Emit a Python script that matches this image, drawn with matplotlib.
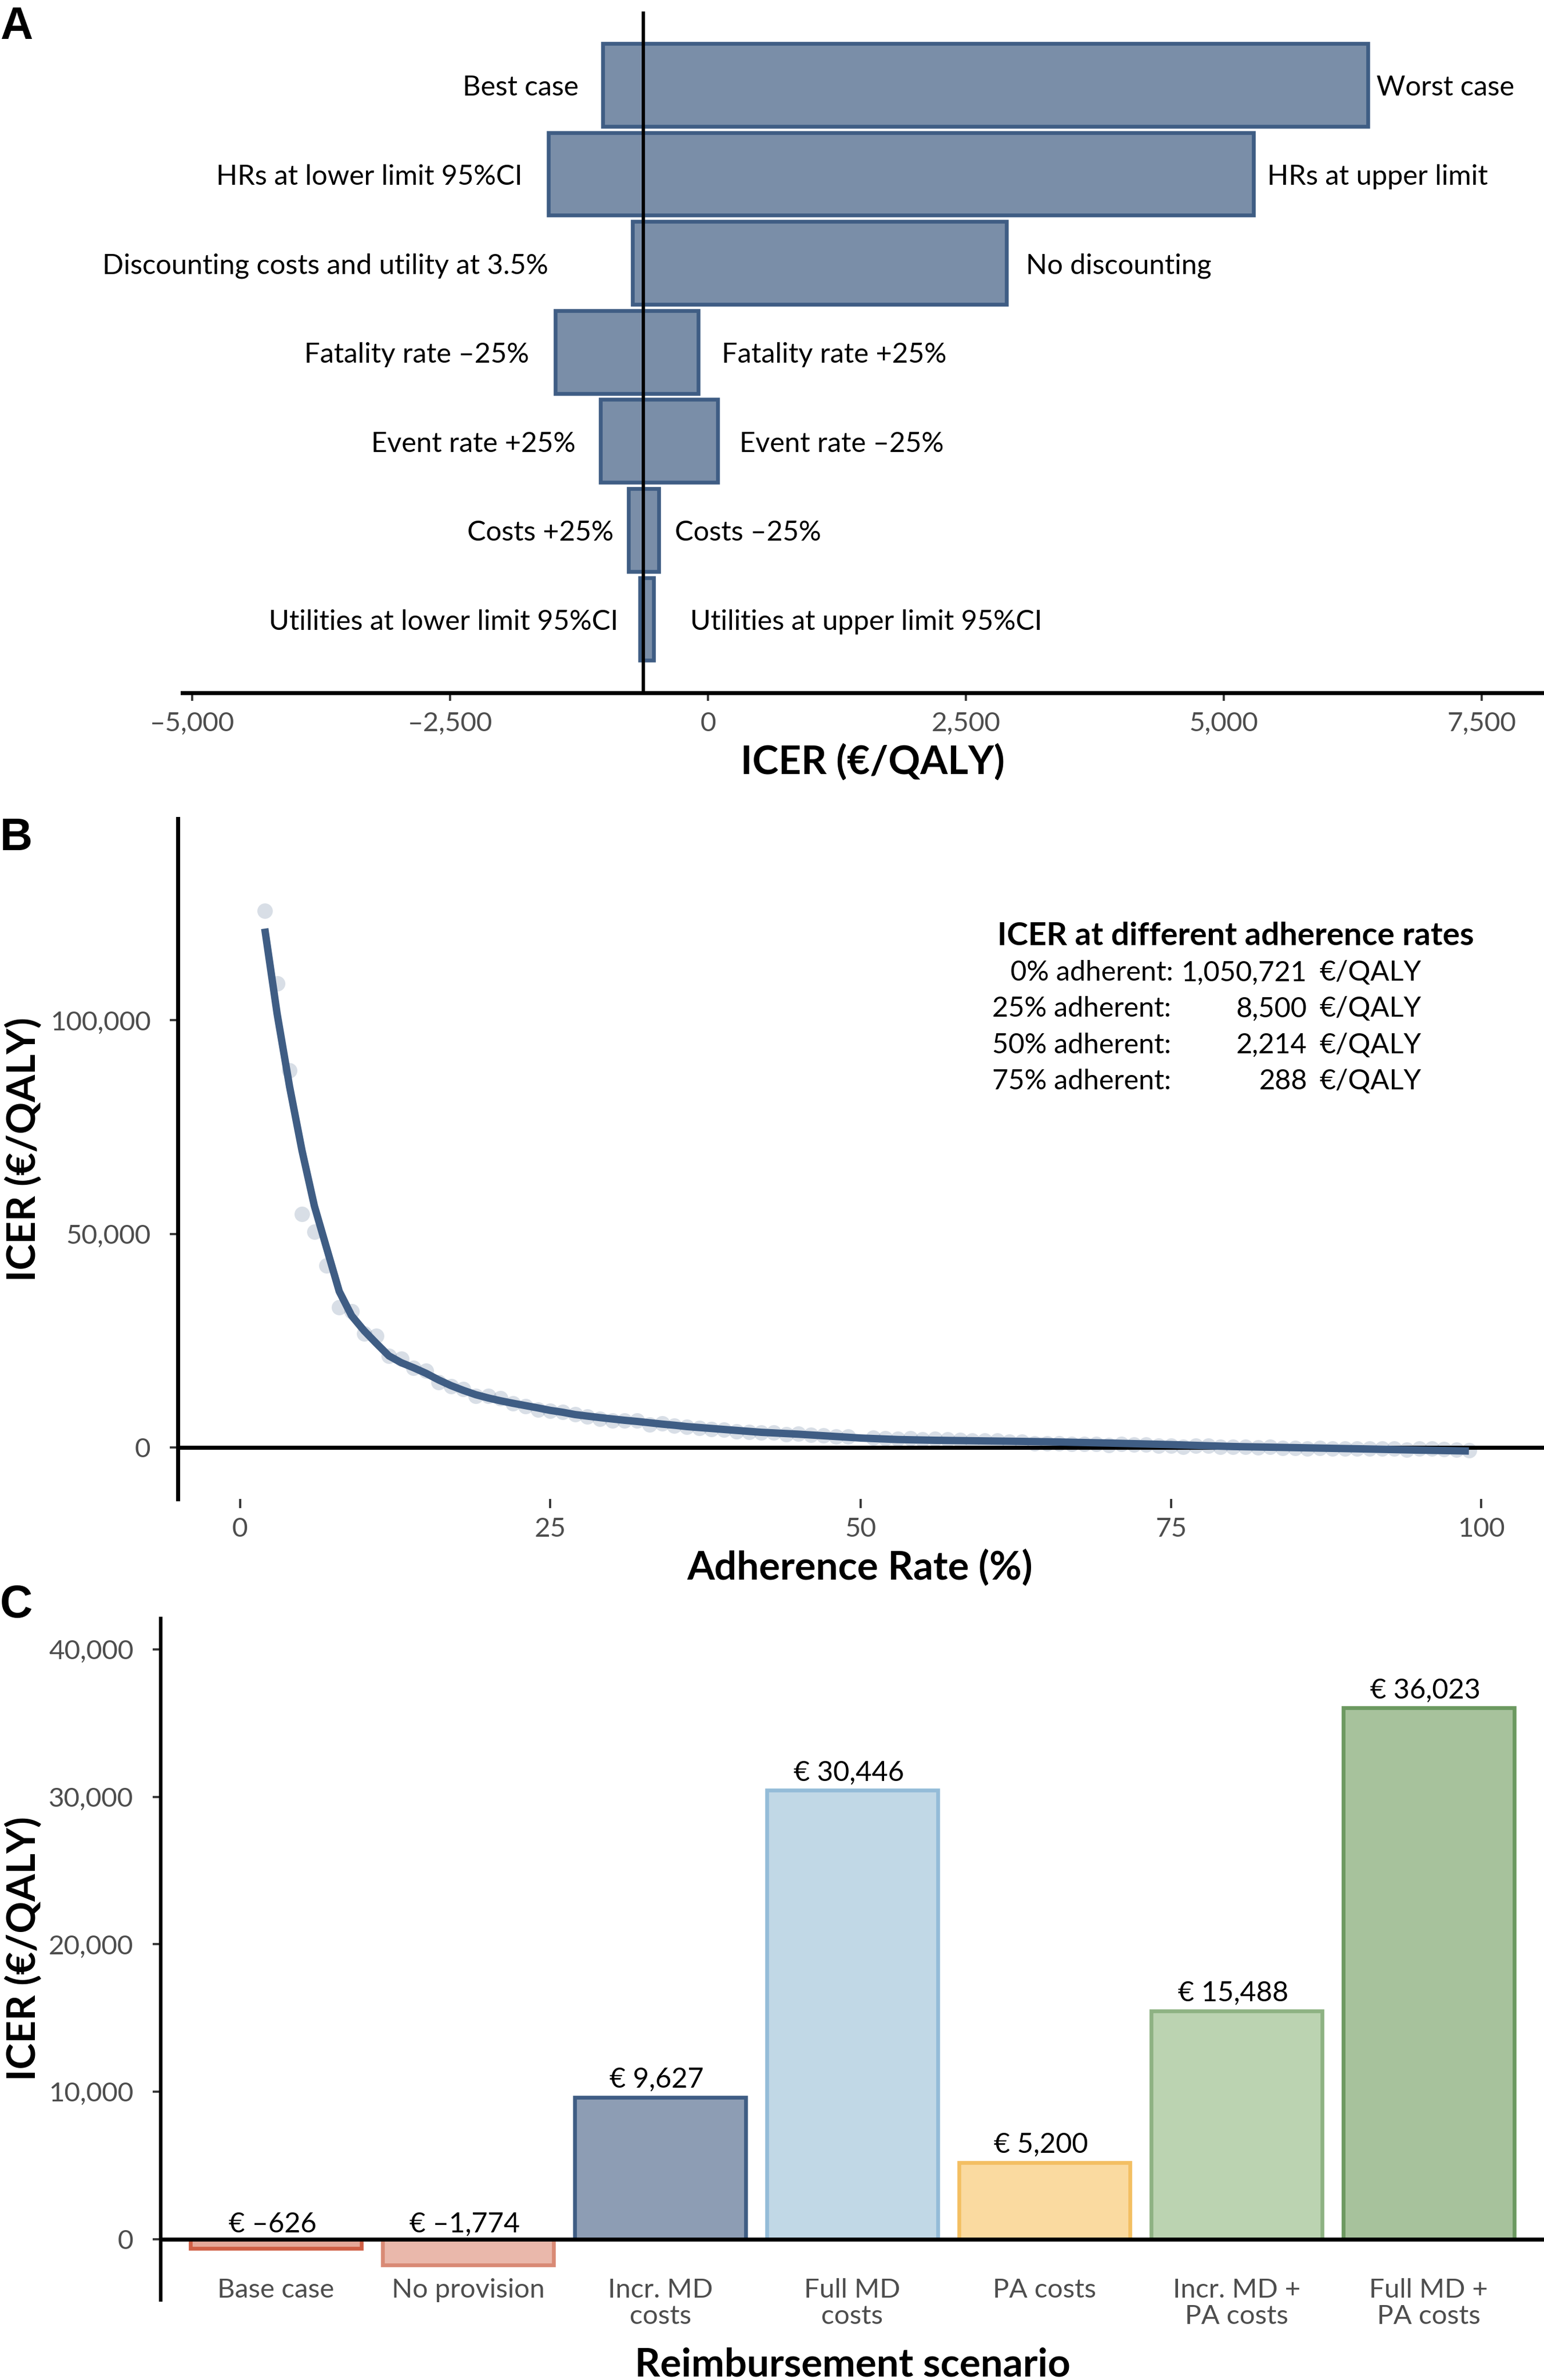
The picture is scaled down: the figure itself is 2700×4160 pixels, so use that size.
#!/usr/bin/env python3
"""ICER sensitivity panels: tornado, adherence curve, reimbursement scenarios."""

import matplotlib

matplotlib.use("Agg")
import matplotlib.pyplot as plt

WIDTH = 2700
HEIGHT = 4160
DPI = 300

NAVY = "#3F5D84"
TICK_TEXT = "#4D4D4D"
TICK_MARK = "#333333"

# panel A
tornado_low = [-1020, -1546, -733, -1480, -1042, -771, -660]
tornado_high = [6397, 5288, 2893, -94, 96, -477, -526]
tornado_left_labels = [
    "Best case",
    "HRs at lower limit 95%CI",
    "Discounting costs and utility at 3.5%",
    "Fatality rate –25%",
    "Event rate +25%",
    "Costs +25%",
    "Utilities at lower limit 95%CI",
]
tornado_right_labels = [
    "Worst case",
    "HRs at upper limit",
    "No discounting",
    "Fatality rate +25%",
    "Event rate –25%",
    "Costs –25%",
    "Utilities at upper limit 95%CI",
]
tornado_left_gap = [42, 45, 147, 46, 44, 26, 38]
tornado_right_gap = [15, 24, 34, 41, 38, 28, 64]
base_case_icer = -626
tornado_ticks = [-5000, -2500, 0, 2500, 5000, 7500]
tornado_ticklabels = ["–5,000", "–2,500", "0", "2,500", "5,000", "7,500"]

# panel B
dots_adherence = [
    2, 3, 4, 5, 6, 7, 8, 9, 10, 11, 12, 13, 14, 15, 16, 17, 18, 19, 20, 21,
    22, 23, 24, 25, 26, 27, 28, 29, 30, 31, 32, 33, 34, 35, 36, 37, 38, 39,
    40, 41, 42, 43, 44, 45, 46, 47, 48, 49, 51, 52, 53, 54, 55, 56, 57, 58,
    59, 60, 61, 62, 63, 64, 65, 66, 67, 68, 69, 70, 71, 72, 73, 74, 75, 76,
    77, 78, 79, 80, 81, 82, 83, 84, 85, 86, 87, 88, 89, 90, 91, 92, 93, 94,
    95, 96, 97, 98, 99,
]
dots_icer = [
    125700, 108690, 88220, 54670, 50510, 42590, 32735, 31810, 26650, 26050,
    21420, 20690, 18540, 17870, 15190, 14210, 13670, 12060, 12060, 11440,
    10190, 9610, 8760, 8490, 8180, 7770, 7190, 6700, 6170, 6260, 6170, 5360,
    5500, 5050, 4740, 4470, 4290, 4110, 3750, 3570, 3400, 3400, 3040, 3170,
    2950, 2810, 2500, 2460, 2230, 2060, 1920, 2060, 1790, 1970, 1790, 1650,
    1520, 1500, 1540, 1270, 1270, 920, 830, 830, 740, 690, 740, 470, 740,
    600, 560, 380, 290, 70, 290, 290, 70, 20, 20, -70, 20, -160, -160, -290,
    -160, -290, -340, -340, -380, -380, -380, -600, -380, -380, -510, -600,
    -740,
]
curve_adherence = [
    2, 3, 4, 5, 6, 7, 8, 9, 10, 11, 12, 13, 14, 15, 16, 17, 18, 19, 20, 21,
    22, 23, 24, 25, 26, 27, 28, 29, 30, 31, 32, 33, 34, 35, 36, 39, 42, 45,
    48, 50, 53, 56, 59, 65, 70, 75, 80, 85, 90, 95, 99,
]
curve_icer = [
    121500, 101500, 84500, 69500, 56500, 46500, 36500, 30800, 27300, 24300,
    21400, 19790, 18600, 17300, 15770, 14430, 13310, 12300, 11530, 10860,
    10280, 9740, 9200, 8620, 8180, 7640, 7280, 6930, 6610, 6300, 6030, 5720,
    5410, 5140, 4830, 4150, 3480, 3040, 2500, 2140, 1790, 1610, 1500, 1270,
    960, 600, 150, -110, -380, -690, -900,
]
adherence_rows = ["0% adherent:", "25% adherent:", "50% adherent:", "75% adherent:"]
adherence_values = ["1,050,721", "8,500", "2,214", "288"]

# panel C
scenarios = [
    "Base case",
    "No provision",
    "Incr. MD\ncosts",
    "Full MD\ncosts",
    "PA costs",
    "Incr. MD +\nPA costs",
    "Full MD +\nPA costs",
]
scenario_icer = [-626, -1774, 9627, 30446, 5200, 15488, 36023]
scenario_labels = ["€ –626", "€ –1,774", "€ 9,627", "€ 30,446", "€ 5,200", "€ 15,488", "€ 36,023"]
scenario_fill = ["#E5A898", "#EAB8AB", "#8D9DB4", "#C1D8E6", "#FADAA0", "#BBD3B1", "#A7C29C"]
scenario_edge = ["#CF5F45", "#D98A75", NAVY, "#94BCD8", "#F3BF62", "#8EB283", "#6C9960"]

plt.rcParams["font.family"] = ["Lato", "DejaVu Sans"]

LABEL_SIZE = 11.7
TICK_SIZE = 11.4
TITLE_SIZE = 16.6
NOTE_SIZE = 13.5

fig = plt.figure(figsize=(WIDTH / DPI, HEIGHT / DPI), dpi=DPI)


def panel_axes(x0, y0, x1, y1):
    ax = fig.add_axes([x0 / WIDTH, 1 - y1 / HEIGHT, (x1 - x0) / WIDTH, (y1 - y0) / HEIGHT])
    ax.patch.set_alpha(0)
    for side in ("top", "right", "left", "bottom"):
        ax.spines[side].set_visible(False)
    return ax


def fig_text(x, y, text, **kwargs):
    kwargs.setdefault("va", "center")
    return fig.text(x / WIDTH, 1 - y / HEIGHT, text, **kwargs)


# A: tornado
ax_a = panel_axes(319, 20, 2700, 1211)
ax_a.set_xlim(-5094, 8104)
ax_a.set_ylim(6.83, -0.826)
rows = list(range(len(tornado_low)))
ax_a.barh(
    rows,
    [hi - lo for lo, hi in zip(tornado_low, tornado_high)],
    left=tornado_low,
    height=0.93,
    color="#7A8EA8",
    edgecolor=NAVY,
    linewidth=1.6,
)
ax_a.plot([base_case_icer, base_case_icer], [-0.826, 6.83], color="black", lw=1.4, zorder=5)
for i in rows:
    ax_a.annotate(
        tornado_left_labels[i],
        (tornado_low[i], i),
        xytext=(-tornado_left_gap[i] * 72 / DPI, -1.2),
        textcoords="offset points",
        ha="right",
        va="center",
        fontsize=LABEL_SIZE,
    )
    ax_a.annotate(
        tornado_right_labels[i],
        (tornado_high[i], i),
        xytext=(tornado_right_gap[i] * 72 / DPI, -1.2),
        textcoords="offset points",
        ha="left",
        va="center",
        fontsize=LABEL_SIZE,
    )
ax_a.spines["bottom"].set_visible(True)
ax_a.spines["bottom"].set_linewidth(1.7)
ax_a.set_xticks(tornado_ticks)
ax_a.set_xticklabels(tornado_ticklabels)
ax_a.set_yticks([])
ax_a.tick_params(axis="x", length=3.4, width=0.9, color=TICK_MARK, pad=4.4, labelsize=TICK_SIZE, labelcolor=TICK_TEXT)

# B: adherence curve
ax_b = panel_axes(311, 1431, 2700, 2620)
ax_b.set_xlim(-5.0, 105.05)
ax_b.set_ylim(-12130, 147250)
ax_b.scatter(dots_adherence, dots_icer, s=42, color=NAVY, alpha=0.2, linewidths=0, zorder=2)
ax_b.axhline(0, color="black", lw=1.7, zorder=3)
ax_b.plot(curve_adherence, curve_icer, color=NAVY, lw=3.1, solid_capstyle="butt", zorder=4)
ax_b.spines["left"].set_visible(True)
ax_b.spines["left"].set_linewidth(1.7)
ax_b.set_xticks([0, 25, 50, 75, 100])
ax_b.set_yticks([0, 50000, 100000])
ax_b.set_yticklabels(["0", "50,000", "100,000"])
ax_b.tick_params(axis="x", length=3.8, width=0.9, color=TICK_MARK, pad=3.8, labelsize=TICK_SIZE, labelcolor=TICK_TEXT)
ax_b.tick_params(axis="y", length=3.4, width=0.9, color=TICK_MARK, pad=8, labelsize=TICK_SIZE, labelcolor=TICK_TEXT)

fig_text(1744, 1636, "ICER at different adherence rates", fontsize=NOTE_SIZE, fontweight="bold", ha="left")
for i, (row, value) in enumerate(zip(adherence_rows, adherence_values)):
    y = 1700 + i * 63.4
    # the 0% row sits slightly to the right of the others in the reference
    fig_text(2052 if i == 0 else 2048, y, row, fontsize=LABEL_SIZE, ha="right")
    fig_text(2286, y, value, fontsize=LABEL_SIZE, ha="right")
    fig_text(2308, y, "€/QALY", fontsize=LABEL_SIZE, ha="left")

# C: reimbursement scenarios
ax_c = panel_axes(281, 2829, 2700, 4020)
ax_c.set_xlim(-0.6, 6.6)
ax_c.set_ylim(-4125, 42090)
positions = list(range(len(scenarios)))
ax_c.bar(positions, scenario_icer, width=0.89, color=scenario_fill, edgecolor=scenario_edge, linewidth=1.6)
ax_c.axhline(0, color="black", lw=1.7, zorder=5)
for i in positions:
    ax_c.annotate(
        scenario_labels[i],
        (i, max(scenario_icer[i], 0)),
        xytext=(-1.5, 7.4 if scenario_icer[i] > 0 else 6.2),
        textcoords="offset points",
        ha="center",
        va="center",
        fontsize=LABEL_SIZE,
    )
ax_c.spines["left"].set_visible(True)
ax_c.spines["left"].set_linewidth(1.5)
ax_c.set_xticks(positions)
ax_c.set_xticklabels(scenarios, linespacing=1.12)
ax_c.set_yticks([0, 10000, 20000, 30000, 40000])
ax_c.set_yticklabels(["0", "10,000", "20,000", "30,000", "40,000"])
ax_c.tick_params(axis="x", length=0, pad=-9.2, labelsize=TICK_SIZE, labelcolor=TICK_TEXT)
ax_c.tick_params(axis="y", length=3.4, width=0.9, color=TICK_MARK, pad=8, labelsize=TICK_SIZE, labelcolor=TICK_TEXT)

# axis titles and panel letters are placed on the figure
fig_text(1526, 1332, "ICER (€/QALY)", fontsize=TITLE_SIZE, fontweight="bold", ha="center")
fig_text(1504, 2741, "Adherence Rate (%)", fontsize=TITLE_SIZE, fontweight="bold", ha="center")
fig_text(1491, 4134, "Reimbursement scenario", fontsize=TITLE_SIZE, fontweight="bold", ha="center")
fig_text(42, 2009, "ICER (€/QALY)", fontsize=TITLE_SIZE, fontweight="bold", ha="center", rotation=90)
fig_text(42, 3406, "ICER (€/QALY)", fontsize=TITLE_SIZE, fontweight="bold", ha="center", rotation=90)

for letter, y in (("A", 48), ("B", 1466), ("C", 2807)):
    fig_text(0, y, letter, fontsize=19, fontweight="bold", family="Liberation Sans", ha="left")

fig.savefig("out.png", dpi=DPI, facecolor="white")
